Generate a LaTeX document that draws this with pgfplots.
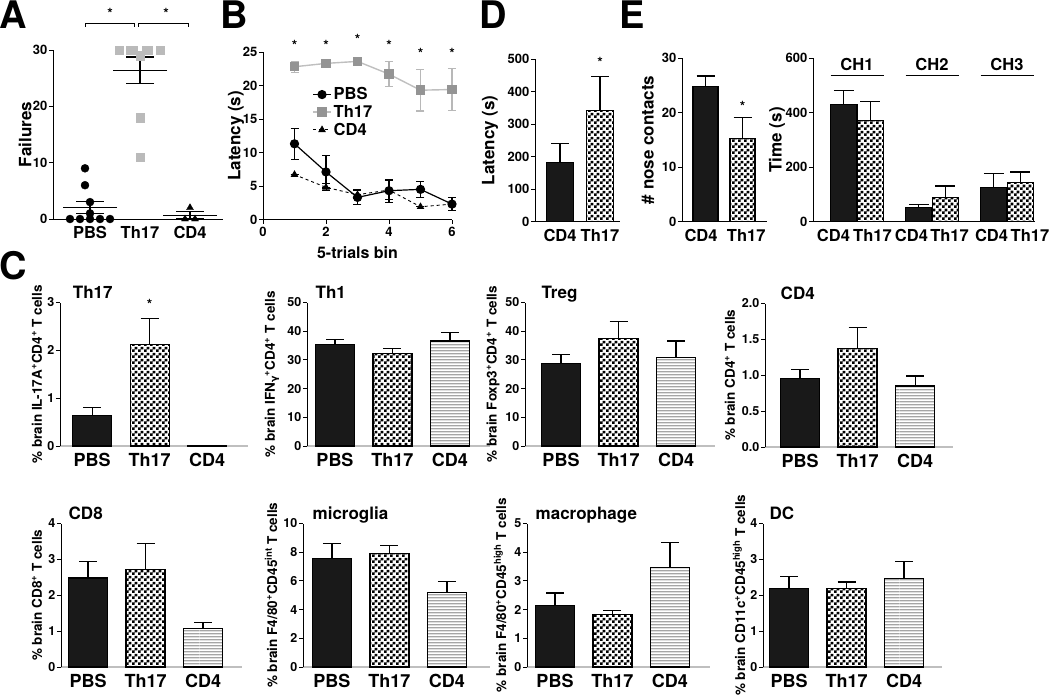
\documentclass[border=0pt]{standalone}
\usepackage{fontspec}
\setmainfont{TeX Gyre Heros}
\newfontfamily\dejavu{DejaVu Sans}
\usepackage{pgfplots}
\pgfplotsset{compat=1.18}
\usetikzlibrary{patterns}
\pgfdeclarepatternformonly{checker}{\pgfqpoint{0pt}{0pt}}{\pgfqpoint{6pt}{6pt}}{\pgfqpoint{6pt}{6pt}}{%
  \pgfpathrectangle{\pgfqpoint{0pt}{0pt}}{\pgfqpoint{3pt}{3pt}}%
  \pgfpathrectangle{\pgfqpoint{3pt}{3pt}}{\pgfqpoint{3pt}{3pt}}%
  \pgfusepath{fill}}
\pgfdeclarepatternformonly{hlines}{\pgfqpoint{0pt}{0pt}}{\pgfqpoint{100pt}{3pt}}{\pgfqpoint{100pt}{3pt}}{%
  \pgfsetlinewidth{0.7pt}%
  \pgfpathmoveto{\pgfqpoint{0pt}{1.5pt}}\pgfpathlineto{\pgfqpoint{100pt}{1.5pt}}%
  \pgfusepath{stroke}}
\newcommand{\fs}[1]{\fontsize{#1}{#1}\selectfont\bfseries}
\tikzset{ctitle/.style={anchor=base west, xshift=-19.5pt, yshift=4pt, font=\fs{17}, inner sep=0pt},
  letter/.style={font=\fs{38}, inner sep=0pt}}
\pgfplotsset{
  base/.style={scale only axis, anchor=south west, clip=false, enlargelimits=false,
    axis lines=left, axis line style={-, line width=0.9pt, black},
    tick align=outside, major tick length=4pt,
    tick style={line width=0.9pt, black},
    /pgf/number format/assume math mode=true,
    yticklabel style={font=\fs{13}, inner sep=1.5pt},
    xticklabel style={font=\fs{16.5}},
    every axis x label/.style={at={(axis description cs:0.5,0)}, yshift=-33pt, anchor=center, font=\fs{16}}},
  ylab/.style={every axis y label/.style={at={(axis description cs:0,0.5)}, xshift=#1, rotate=90, anchor=center, font=\fs{17}}},
  cylab/.style={every axis y label/.style={at={(axis description cs:0,0.5)}, xshift=#1, rotate=90, anchor=center, font=\fs{13.5}}},
  cbar/.style={base, height=143.5pt, bar width=39pt, xtick={1,2,3}, xticklabels={PBS,Th17,CD4},
    xticklabel style={font=\fs{18}}, yticklabel style={font=\fs{12.5}},
    major x tick style={draw=none}, x axis line style={black!25, line width=1.2pt}, ymin=0},
  ebar/.style={/pgfplots/error bars/y dir=plus, /pgfplots/error bars/y explicit,
    /pgfplots/error bars/error bar style={line width=1.1pt, black, solid},
    /pgfplots/error bars/error mark options={rotate=90, mark size=#1, line width=1.1pt, black, solid}},
  ebar/.default=9pt,
  blackbar/.style={ybar, fill=black!90, draw=black, line width=1.1pt},
  checkbar/.style={ybar, pattern=checker, draw=black, line width=1.1pt},
  linebar/.style={ybar, pattern=hlines, draw=black, line width=1.1pt},
}
\begin{document}
\begin{tikzpicture}
\path[use as bounding box] (0,0) rectangle (1050pt,-694pt);
% panel letters
\node[letter] at (13.5pt,-15pt) {A};
\node[letter] at (234pt,-15pt) {B};
\node[letter] at (13.5pt,-266pt) {C};
\node[letter] at (493pt,-15pt) {D};
\node[letter] at (632pt,-15pt) {E};

% ---------------- A
\begin{axis}[base, at={(53pt,-219pt)}, width=170pt, height=169pt,
  xmin=0.26, xmax=3.66, ymin=0, ymax=30, ytick={0,10,20,30},
  xtick={1,2,3}, xticklabels={PBS,Th17,CD4}, major x tick style={draw=none},
  ylab=-28pt, ylabel={Failures}]
\addplot[only marks, mark=*, mark size=4pt, black] coordinates {(0.6,0)(0.8,0)(1,0)(1.2,0)(1.4,0)(1,1)(1,3)(0.9,6)(0.9,9)};
\addplot[only marks, mark=square*, mark size=4.2pt, color=black!27] coordinates {(1.58,30)(1.8,30)(1.86,30)(2.12,30)(2.16,30)(2.4,30)(2,29)(2,18)(2,11)};
\addplot[only marks, mark=triangle*, mark size=4pt, black] coordinates {(2.9,0)(3.1,0)(3,2)};
\addplot[only marks, mark=-, mark size=27pt, mark options={line width=1.1pt, black},
  /pgfplots/error bars/y dir=both, /pgfplots/error bars/y explicit,
  /pgfplots/error bars/error bar style={line width=1.1pt, black},
  /pgfplots/error bars/error mark options={rotate=90, mark size=14pt, line width=1.1pt, black}]
  coordinates {(1,2.1) +- (0,1.05) (2,26.4) +- (0,2.35) (3,0.67) +- (0,0.67)};
\draw[line width=0.8pt] (axis cs:0.9,34.1) -- (axis cs:0.9,34.8) -- (axis cs:1.88,34.8) -- (axis cs:1.88,34.1);
\draw[line width=0.8pt] (axis cs:1.96,34.1) -- (axis cs:1.96,34.8) -- (axis cs:2.96,34.8) -- (axis cs:2.96,34.1);
\node[font=\fs{14}] at (axis cs:1.4,36.5) {*};
\node[font=\fs{14}] at (axis cs:2.52,36.5) {*};
\end{axis}

% ---------------- B
\begin{axis}[base, at={(263pt,-219.5pt)}, width=189pt, height=167.5pt,
  xmin=0, xmax=6, ymin=0, ymax=25, xtick={0,2,4,6}, ytick={0,5,10,15,20,25},
  xticklabel style={font=\fs{13}},
  ylab=-27pt, ylabel={Latency (s)}, xlabel={5-trials bin},
  legend style={at={(axis description cs:0.26,0.8)}, anchor=north west, draw=none, fill=none,
    font=\fs{16.5}, inner sep=0pt, row sep=0pt, cells={anchor=west}},
  legend image code/.code={\draw[mark repeat=2, mark phase=2, #1] plot coordinates {(0pt,0pt) (9pt,0pt) (18pt,0pt)};}]
\addplot[black, line width=1.2pt, mark=*, mark size=4pt,
  /pgfplots/error bars/y dir=both, /pgfplots/error bars/y explicit,
  /pgfplots/error bars/error bar style={line width=1.1pt, black, solid},
  /pgfplots/error bars/error mark options={rotate=90, mark size=4pt, line width=1.1pt, black}]
  coordinates {(1,11.3) +- (0,2.3) (2,7.1) +- (0,2.4) (3,3.3) +- (0,1.1) (4,4.3) +- (0,1.7) (5,4.5) +- (0,1.2) (6,2.3) +- (0,1.0)};
\addlegendentry{PBS}
\addplot[color=black!25, line width=1.4pt, mark=square*, mark size=4pt, mark options={fill=black!42, draw=black!42},
  /pgfplots/error bars/y dir=both, /pgfplots/error bars/y explicit,
  /pgfplots/error bars/error bar style={line width=1.1pt, black!28, solid},
  /pgfplots/error bars/error mark options={rotate=90, mark size=4pt, line width=1.1pt, black!28}]
  coordinates {(1,22.8) +- (0,0.8) (2,23.3) +- (0,0.55) (3,23.6) +- (0,0.2) (4,21.7) +- (0,1.9) (5,19.3) +- (0,3.1) (6,19.4) +- (0,3.1)};
\addlegendentry{Th17}
\addplot[black, line width=0.9pt, dashed, mark=triangle*, mark size=3.5pt, mark options={solid},
  /pgfplots/error bars/y dir=both, /pgfplots/error bars/y explicit,
  /pgfplots/error bars/error bar style={line width=1.0pt, black, solid},
  /pgfplots/error bars/error mark options={rotate=90, mark size=4pt, line width=1.0pt, black}]
  coordinates {(1,6.7) +- (0,0) (2,4.8) +- (0,0.5) (3,3.7) +- (0,0.6) (4,4.4) +- (0,1.4) (5,1.9) +- (0,0) (6,2.3) +- (0,0)};
\addlegendentry{CD4}
\node[font=\fs{14}] at (axis cs:1,26) {*};
\node[font=\fs{14}] at (axis cs:2,26) {*};
\node[font=\fs{14}] at (axis cs:3,26.9) {*};
\node[font=\fs{14}] at (axis cs:4,26) {*};
\node[font=\fs{14}] at (axis cs:5,24.85) {*};
\node[font=\fs{14}] at (axis cs:6,24.85) {*};
\end{axis}

% ---------------- D
\begin{axis}[base, at={(535pt,-221.5pt)}, width=85pt, height=162.5pt,
  xmin=0.375, xmax=2.5, ymin=0, ymax=500, ytick={0,100,200,300,400,500},
  xtick={1,2}, xticklabels={CD4,Th17}, major x tick style={draw=none}, bar width=27.5pt,
  ylab=-45pt, ylabel={Latency (s)}]
\addplot[blackbar, ebar=9pt] coordinates {(1,182) +- (0,58)};
\addplot[checkbar, ebar=9pt] coordinates {(2,341) +- (0,104)};
\node[font=\fs{14}] at (axis cs:2,491) {*};
\end{axis}

% ---------------- E1
\begin{axis}[base, at={(682pt,-221.7pt)}, width=85pt, height=163.7pt,
  xmin=0.365, xmax=2.662, ymin=0, ymax=30, ytick={0,10,20,30},
  xtick={0.88,2.1}, xticklabels={CD4,Th17}, major x tick style={draw=none}, bar width=25pt,
  ylab=-34pt, ylabel={\# nose contacts}]
\addplot[blackbar, ebar=9pt] coordinates {(1,24.7) +- (0,2.0)};
\addplot[checkbar, ebar=9pt] coordinates {(2,15.3) +- (0,3.8)};
\node[font=\fs{14}] at (axis cs:2,21.2) {*};
\end{axis}

% ---------------- E2
\begin{axis}[base, at={(813pt,-221.7pt)}, width=222pt, height=163.7pt,
  xmin=0.413, xmax=3.373, ymin=0, ymax=600, ytick={0,200,400,600},
  xtick={0.686,1.206,1.726,2.233,2.793,3.306}, xticklabels={CD4,Th17,CD4,Th17,CD4,Th17},
  major x tick style={draw=none}, bar width=26.5pt,
  ylab=-36pt, ylabel={Time (s)}]
\addplot[blackbar, ebar=10pt] coordinates {(0.823,430) +- (0,51)};
\addplot[checkbar, ebar=10pt] coordinates {(1.177,370) +- (0,72)};
\addplot[blackbar, ebar=10pt] coordinates {(1.823,52) +- (0,12)};
\addplot[checkbar, ebar=10pt] coordinates {(2.177,89) +- (0,42)};
\addplot[blackbar, ebar=10pt] coordinates {(2.823,125) +- (0,51)};
\addplot[checkbar, ebar=10pt] coordinates {(3.177,145) +- (0,37)};
\node[font=\fs{16.5}] at (axis cs:1,577) {CH1};
\node[font=\fs{16.5}] at (axis cs:2,577) {CH2};
\node[font=\fs{16.5}] at (axis cs:3,577) {CH3};
\draw[line width=0.9pt] (axis cs:0.647,537) -- (axis cs:1.353,537);
\draw[line width=0.9pt] (axis cs:1.647,537) -- (axis cs:2.353,537);
\draw[line width=0.9pt] (axis cs:2.647,537) -- (axis cs:3.353,537);
\end{axis}

% ---------------- C row 1
\begin{axis}[cbar, at={(60pt,-446pt)}, width=188pt, xmin=0.44, xmax=3.71, ymax=3, ytick={0,1,2,3},
  cylab=-23pt, ylabel={\% brain IL-17A\textsuperscript{+}CD4\textsuperscript{+} T cells}]
\addplot[blackbar, ebar] coordinates {(1,0.64) +- (0,0.17)};
\addplot[checkbar, ebar] coordinates {(2,2.13) +- (0,0.53)};
\addplot[linebar, ebar] coordinates {(3,0.01) +- (0,0)};
\node[ctitle] at (axis cs:1,3) {Th17};
\node[font=\fs{14}] at (axis cs:2,2.66) [yshift=14pt] {*};
\end{axis}

\begin{axis}[cbar, at={(307pt,-446pt)}, width=183pt, xmin=0.513, xmax=3.696, ymax=50, ytick={0,10,20,30,40,50},
  cylab=-35pt, ylabel={\% brain IFN\textsubscript{{\dejavu\bfseries γ}}\textsuperscript{+}CD4\textsuperscript{+} T cells}]
\addplot[blackbar, ebar] coordinates {(1,35.3) +- (0,1.9)};
\addplot[checkbar, ebar] coordinates {(2,32.2) +- (0,1.9)};
\addplot[linebar, ebar] coordinates {(3,36.6) +- (0,2.8)};
\node[ctitle] at (axis cs:1,50) {Th1};
\end{axis}

\begin{axis}[cbar, at={(525pt,-446pt)}, width=190pt, xmin=0.374, xmax=3.678, ymax=50, ytick={0,10,20,30,40,50},
  cylab=-32pt, ylabel={\% brain Foxp3\textsuperscript{+}CD4\textsuperscript{+} T cells}]
\addplot[blackbar, ebar] coordinates {(1,28.7) +- (0,3.1)};
\addplot[checkbar, ebar] coordinates {(2,37.4) +- (0,6.1)};
\addplot[linebar, ebar] coordinates {(3,30.8) +- (0,5.8)};
\node[ctitle] at (axis cs:1,50) {Treg};
\end{axis}

\begin{axis}[cbar, at={(765pt,-447pt)}, width=188pt, xmin=0.391, xmax=3.66, ymax=2, ytick={0,0.5,1,1.5,2},
  yticklabel style={/pgf/number format/.cd, fixed, fixed zerofill, precision=1},
  cylab=-35pt, ylabel={\% brain CD4\textsuperscript{+} T cells}]
\addplot[blackbar, ebar] coordinates {(1,0.95) +- (0,0.13)};
\addplot[checkbar, ebar] coordinates {(2,1.37) +- (0,0.29)};
\addplot[linebar, ebar] coordinates {(3,0.85) +- (0,0.14)};
\node[ctitle] at (axis cs:1,2) {CD4};
\end{axis}

% ---------------- C row 2
\begin{axis}[cbar, at={(61pt,-667pt)}, width=181pt, xmin=0.53, xmax=3.678, ymax=4, ytick={0,1,2,3,4},
  cylab=-24pt, ylabel={\% brain CD8\textsuperscript{+} T cells}]
\addplot[blackbar, ebar] coordinates {(1,2.48) +- (0,0.45)};
\addplot[checkbar, ebar] coordinates {(2,2.71) +- (0,0.74)};
\addplot[linebar, ebar] coordinates {(3,1.07) +- (0,0.16)};
\node[ctitle] at (axis cs:1,4) {CD8};
\end{axis}

\begin{axis}[cbar, at={(303pt,-667pt)}, width=187pt, xmin=0.496, xmax=3.748, ymax=10, ytick={0,2,4,6,8,10},
  cylab=-32pt, ylabel={\% brain F4/80\textsuperscript{+}CD45\textsuperscript{int} T cells}]
\addplot[blackbar, ebar] coordinates {(1,7.54) +- (0,1.04)};
\addplot[checkbar, ebar] coordinates {(2,7.89) +- (0,0.55)};
\addplot[linebar, ebar] coordinates {(3,5.21) +- (0,0.74)};
\node[ctitle] at (axis cs:1,10) {microglia};
\end{axis}

\begin{axis}[cbar, at={(527pt,-667pt)}, width=183pt, xmin=0.513, xmax=3.696, ymax=5, ytick={0,1,2,3,4,5},
  cylab=-27pt, ylabel={\% brain F4/80\textsuperscript{+}CD45\textsuperscript{high} T cells}]
\addplot[blackbar, ebar] coordinates {(1,2.13) +- (0,0.45)};
\addplot[checkbar, ebar] coordinates {(2,1.83) +- (0,0.13)};
\addplot[linebar, ebar] coordinates {(3,3.46) +- (0,0.87)};
\node[ctitle] at (axis cs:1,5) {macrophage};
\end{axis}

\begin{axis}[cbar, at={(763pt,-667pt)}, width=179pt, xmin=0.548, xmax=3.66, ymax=4, ytick={0,1,2,3,4},
  cylab=-24pt, ylabel={\% brain CD11c\textsuperscript{+}CD45\textsuperscript{high} T cells}]
\addplot[blackbar, ebar] coordinates {(1,2.19) +- (0,0.34)};
\addplot[checkbar, ebar] coordinates {(2,2.19) +- (0,0.18)};
\addplot[linebar, ebar] coordinates {(3,2.46) +- (0,0.49)};
\node[ctitle] at (axis cs:1,4) {DC};
\end{axis}
\end{tikzpicture}
\end{document}
